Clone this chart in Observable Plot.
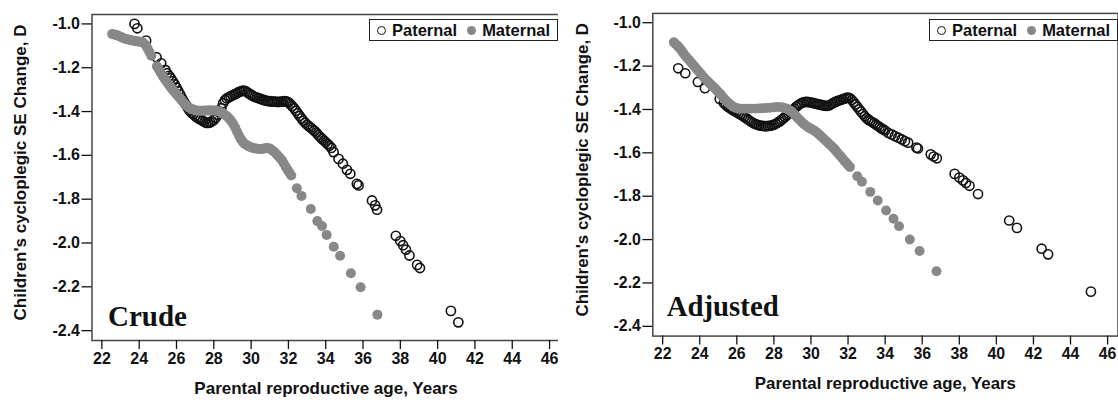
<!DOCTYPE html>
<html><head><meta charset="utf-8">
<script src="https://cdn.jsdelivr.net/npm/d3@7"></script>
<script src="https://cdn.jsdelivr.net/npm/@observablehq/plot@0.6"></script>
<style>
body{margin:0;background:#fff;overflow:hidden}
#wrap{position:relative;width:1118px;height:402px;overflow:hidden;background:#fff}
.panel{position:absolute;top:0}
.legend{position:absolute;top:19px;height:20px;border:1.5px solid #222;background:#fff;display:flex;align-items:center;font:bold 16.5px "Liberation Sans";color:#111;white-space:nowrap;padding:0 7px 0 7px}
.oc{display:inline-block;width:7px;height:7px;border:1.3px solid #111;border-radius:50%;margin-right:6px}
.fc{display:inline-block;width:9px;height:9px;background:#888;border-radius:50%;margin:0 6px 0 10px}
</style>
</head><body>
<div id="wrap"></div>
<script>
// ---- data: [parental age (years), children's SE change (D)] ----
const crudePaternal = [
[23.75,-1.00],[23.9,-1.02],[24.37,-1.076],[24.93,-1.152],[25.18,-1.18],
[25.4,-1.21],[25.5,-1.225],[25.6,-1.237],[25.7,-1.248],[25.8,-1.262],[25.9,-1.276],[26.0,-1.29],[26.1,-1.307],[26.2,-1.323],[26.3,-1.34],
[26.4,-1.355],[26.5,-1.368],[26.6,-1.382],[26.7,-1.395],[26.8,-1.405],[26.9,-1.412],[27.0,-1.42],[27.1,-1.427],[27.2,-1.432],[27.3,-1.437],
[27.4,-1.442],[27.5,-1.447],[27.6,-1.452],[27.7,-1.452],[27.8,-1.45],[27.9,-1.445],[28.0,-1.438],[28.1,-1.428],[28.2,-1.415],[28.3,-1.40],
[28.4,-1.385],[28.5,-1.362],[28.6,-1.348],[28.7,-1.34],[28.8,-1.335],[28.9,-1.33],[29.0,-1.326],[29.1,-1.322],[29.2,-1.318],[29.3,-1.313],
[29.4,-1.309],[29.5,-1.306],[29.6,-1.305],[29.7,-1.307],[29.8,-1.312],[29.9,-1.318],[30.0,-1.324],[30.1,-1.329],[30.2,-1.333],[30.3,-1.336],
[30.4,-1.339],[30.5,-1.342],[30.6,-1.345],[30.7,-1.348],[30.8,-1.35],[30.9,-1.352],[31.0,-1.353],[31.1,-1.354],[31.2,-1.355],[31.3,-1.355],
[31.4,-1.356],[31.5,-1.356],[31.6,-1.355],[31.7,-1.354],[31.8,-1.353],[31.9,-1.354],[32.0,-1.358],[32.1,-1.366],[32.2,-1.375],[32.3,-1.385],
[32.4,-1.396],[32.5,-1.408],[32.6,-1.42],[32.7,-1.431],[32.8,-1.442],[32.9,-1.451],[33.0,-1.46],[33.1,-1.467],[33.2,-1.474],[33.3,-1.481],
[33.4,-1.488],[33.5,-1.497],[33.6,-1.507],[33.7,-1.516],[33.8,-1.524],[33.9,-1.532],[34.0,-1.54],[34.1,-1.548],[34.2,-1.556],[34.3,-1.566],
[34.42,-1.585],[34.69,-1.616],[34.92,-1.638],[35.14,-1.666],[35.32,-1.684],[35.67,-1.73],[35.76,-1.737],[36.48,-1.806],[36.65,-1.828],[36.75,-1.848],
[37.76,-1.967],[38.0,-1.991],[38.15,-2.01],[38.3,-2.03],[38.49,-2.057],[38.9,-2.10],[39.05,-2.114],[40.71,-2.31],[41.11,-2.362]
];
const crudeMaternal = [
[22.55,-1.046],[22.65,-1.048],[22.75,-1.05],[22.85,-1.053],[22.95,-1.057],[23.05,-1.061],[23.15,-1.065],[23.25,-1.068],[23.35,-1.07],[23.45,-1.072],
[23.55,-1.074],[23.65,-1.076],[23.75,-1.078],[23.85,-1.079],[23.95,-1.08],[24.05,-1.081],[24.15,-1.083],[24.25,-1.088],[24.35,-1.097],[24.45,-1.112],
[24.55,-1.128],[24.65,-1.145],[24.95,-1.193],[25.05,-1.208],[25.15,-1.222],[25.25,-1.236],[25.35,-1.249],[25.45,-1.261],[25.55,-1.273],[25.65,-1.285],
[25.75,-1.296],[25.85,-1.306],[25.95,-1.316],[26.05,-1.326],[26.15,-1.336],[26.25,-1.346],[26.35,-1.356],[26.45,-1.366],[26.55,-1.374],[26.65,-1.381],
[26.75,-1.386],[26.85,-1.39],[26.95,-1.393],[27.05,-1.395],[27.15,-1.396],[27.25,-1.396],[27.35,-1.396],[27.45,-1.396],[27.55,-1.395],[27.65,-1.395],
[27.75,-1.395],[27.85,-1.395],[27.95,-1.395],[28.05,-1.395],[28.15,-1.396],[28.25,-1.398],[28.35,-1.402],[28.45,-1.407],[28.55,-1.412],[28.65,-1.418],
[28.75,-1.425],[28.85,-1.434],[28.95,-1.445],[29.05,-1.458],[29.15,-1.474],[29.25,-1.492],[29.35,-1.51],[29.45,-1.526],[29.55,-1.538],[29.65,-1.547],
[29.75,-1.553],[29.85,-1.558],[29.95,-1.562],[30.05,-1.565],[30.15,-1.567],[30.25,-1.569],[30.35,-1.57],[30.45,-1.571],[30.55,-1.571],[30.65,-1.57],
[30.75,-1.568],[30.85,-1.566],[30.95,-1.567],[31.05,-1.572],[31.15,-1.578],[31.25,-1.585],[31.35,-1.594],[31.45,-1.603],[31.55,-1.612],[31.65,-1.622],
[31.75,-1.636],[31.85,-1.652],[31.95,-1.665],[32.05,-1.678],[32.15,-1.692],
[32.45,-1.75],[32.7,-1.785],[33.2,-1.845],[33.55,-1.9],[33.8,-1.922],[34.05,-1.963],[34.43,-2.017],[34.77,-2.058],[35.35,-2.138],[35.87,-2.202],[36.77,-2.327]
];
const adjustedPaternal = [
[22.84,-1.21],[23.22,-1.233],[23.9,-1.273],[24.28,-1.302],[25.08,-1.352],
[25.3,-1.37],[25.4,-1.378],[25.5,-1.386],[25.6,-1.392],[25.7,-1.398],[25.8,-1.403],[25.9,-1.408],[26.0,-1.413],[26.1,-1.418],[26.2,-1.423],
[26.3,-1.428],[26.4,-1.434],[26.5,-1.44],[26.6,-1.446],[26.7,-1.452],[26.8,-1.458],[26.9,-1.463],[27.0,-1.467],[27.1,-1.47],[27.2,-1.473],
[27.3,-1.475],[27.4,-1.476],[27.5,-1.477],[27.6,-1.477],[27.7,-1.476],[27.8,-1.475],[27.9,-1.473],[28.0,-1.47],[28.1,-1.466],[28.2,-1.461],
[28.3,-1.456],[28.4,-1.449],[28.5,-1.442],[28.6,-1.435],[28.7,-1.427],[28.8,-1.42],[28.9,-1.412],[29.0,-1.404],[29.1,-1.396],[29.2,-1.388],
[29.3,-1.381],[29.4,-1.375],[29.5,-1.37],[29.6,-1.367],[29.7,-1.365],[29.8,-1.365],[29.9,-1.366],[30.0,-1.368],[30.1,-1.37],[30.2,-1.372],
[30.3,-1.374],[30.4,-1.376],[30.5,-1.378],[30.6,-1.38],[30.7,-1.382],[30.8,-1.383],[30.9,-1.383],[31.0,-1.38],[31.1,-1.375],[31.2,-1.37],
[31.3,-1.366],[31.4,-1.362],[31.5,-1.359],[31.6,-1.356],[31.7,-1.353],[31.8,-1.35],[31.9,-1.347],[32.0,-1.345],[32.1,-1.348],[32.2,-1.356],
[32.3,-1.366],[32.4,-1.377],[32.5,-1.388],[32.6,-1.399],[32.7,-1.41],[32.8,-1.421],[32.9,-1.431],[33.0,-1.44],[33.1,-1.447],[33.2,-1.453],
[33.3,-1.458],[33.4,-1.463],[33.5,-1.469],[33.6,-1.475],[33.7,-1.481],[33.8,-1.487],[33.9,-1.492],[34.0,-1.497],[34.17,-1.508],[34.35,-1.515],
[34.53,-1.523],[34.71,-1.53],[34.89,-1.538],[35.07,-1.546],[35.24,-1.553],[35.69,-1.576],[35.77,-1.58],[36.46,-1.607],[36.62,-1.617],[36.79,-1.625],
[37.75,-1.697],[38.0,-1.714],[38.2,-1.727],[38.36,-1.739],[38.55,-1.752],[39.01,-1.79],[40.69,-1.912],[41.11,-1.946],[42.44,-2.042],[42.79,-2.068],[45.1,-2.24]
];
const adjustedMaternal = [
[22.6,-1.09],[22.7,-1.098],[22.8,-1.106],[22.9,-1.115],[23.0,-1.126],[23.1,-1.138],[23.2,-1.15],[23.3,-1.16],[23.4,-1.17],[23.5,-1.18],
[23.6,-1.19],[23.7,-1.2],[23.8,-1.21],[23.9,-1.22],[24.0,-1.23],[24.1,-1.24],[24.2,-1.25],[24.3,-1.259],[24.4,-1.268],[24.5,-1.277],
[24.6,-1.285],[24.7,-1.293],[24.8,-1.301],[24.9,-1.31],[25.0,-1.319],[25.1,-1.328],[25.2,-1.338],[25.3,-1.348],[25.4,-1.358],[25.5,-1.366],
[25.6,-1.374],[25.7,-1.381],[25.8,-1.387],[25.9,-1.391],[26.0,-1.394],[26.1,-1.396],[26.2,-1.397],[26.4,-1.397],[26.6,-1.397],[26.8,-1.396],
[27.0,-1.396],[27.2,-1.395],[27.4,-1.394],[27.6,-1.393],[27.8,-1.392],[28.0,-1.39],[28.2,-1.389],[28.4,-1.39],[28.5,-1.392],[28.6,-1.394],
[28.7,-1.397],[28.8,-1.401],[28.9,-1.407],[29.0,-1.414],[29.1,-1.422],[29.2,-1.431],[29.3,-1.44],[29.4,-1.449],[29.5,-1.458],[29.6,-1.466],
[29.7,-1.473],[29.8,-1.479],[29.9,-1.484],[30.0,-1.489],[30.1,-1.494],[30.2,-1.499],[30.3,-1.505],[30.4,-1.512],[30.5,-1.52],[30.6,-1.528],
[30.7,-1.536],[30.8,-1.544],[30.9,-1.552],[31.0,-1.56],[31.1,-1.568],[31.2,-1.577],[31.3,-1.586],[31.4,-1.596],[31.5,-1.606],[31.6,-1.616],
[31.7,-1.626],[31.8,-1.636],[31.9,-1.646],[32.0,-1.656],[32.1,-1.665],
[32.5,-1.708],[32.75,-1.733],[33.2,-1.78],[33.6,-1.82],[34.05,-1.866],[34.45,-1.904],[34.75,-1.938],[35.33,-2.0],[35.86,-2.053],[36.77,-2.146]
];
const xTicks = [22,24,26,28,30,32,34,36,38,40,42,44,46];
const yTicks = [-1.0,-1.2,-1.4,-1.6,-1.8,-2.0,-2.2,-2.4];
const xTitle = "Parental reproductive age, Years";
const yTitle = "Children's cycloplegic SE Change, D";
const seriesNames = ["Paternal", "Maternal"];
const panelLabels = ["Crude", "Adjusted"];

// ---- drawing ----
const wrap = document.getElementById("wrap");
function panel(cfg) {
  const chart = Plot.plot({
    width: cfg.width, height: 402,
    marginLeft: cfg.marginLeft, marginRight: 0.5, marginTop: cfg.marginTop, marginBottom: cfg.marginBottom,
    style: {fontFamily: "Liberation Sans", fontWeight: "bold", fontSize: "16px", color: "#111", background: "white", overflow: "visible"},
    x: {domain: [21.47, 46.56]},
    y: {domain: [-2.445, -0.957]},
    marks: [
      Plot.dot(cfg.paternal, {x: d => d[0], y: d => d[1], r: 4.6, stroke: "#111", strokeWidth: 1.6, fill: "none"}),
      Plot.dot(cfg.maternal, {x: d => d[0], y: d => d[1], r: 5, fill: "#888", stroke: "none"}),
      Plot.frame({stroke: "#444", strokeWidth: 1.5}),
      Plot.axisX({ticks: xTicks, tickSize: 9, tickPadding: 3, strokeWidth: 1.3, fontSize: 16, fontWeight: "bold", tickFormat: d => String(d), label: null}),
      Plot.axisY({ticks: yTicks, tickSize: 10, tickPadding: 2, strokeWidth: 1.3, fontSize: 16, fontWeight: "bold", tickFormat: d => d.toFixed(1), label: null}),
      Plot.text([xTitle], {frameAnchor: "bottom", dy: 53, fontSize: 17, text: d => d}),
      Plot.text([yTitle], {frameAnchor: "left", textAnchor: "middle", rotate: -90, dx: -71, dy: -5, fontSize: 17, text: d => d}),
      Plot.text([cfg.label], {frameAnchor: "bottom-left", textAnchor: "start", lineAnchor: "bottom", dx: cfg.labelDx, dy: cfg.labelDy, text: d => d,
        fontFamily: "Liberation Serif", fontSize: 29, fontWeight: "bold", fill: "#111"})
    ]
  });
  const div = document.createElement("div");
  div.className = "panel";
  div.style.left = cfg.left + "px";
  div.appendChild(chart);
  wrap.appendChild(div);
  const lg = document.createElement("div");
  lg.className = "legend";
  lg.style.left = cfg.legendLeft + "px";
  lg.innerHTML = `<span class="oc"></span>${seriesNames[0]}<span class="fc"></span>${seriesNames[1]}`;
  wrap.appendChild(lg);
}
panel({paternal: crudePaternal, maternal: crudeMaternal, label: panelLabels[0], left: 0, width: 560,
  marginLeft: 91.5, marginTop: 14, marginBottom: 62, labelDx: 16, labelDy: -15, legendLeft: 369});
panel({paternal: adjustedPaternal, maternal: adjustedMaternal, label: panelLabels[1], left: 558, width: 564,
  marginLeft: 95, marginTop: 13, marginBottom: 64, labelDx: 14, labelDy: -20, legendLeft: 929});
</script>
</body></html>
